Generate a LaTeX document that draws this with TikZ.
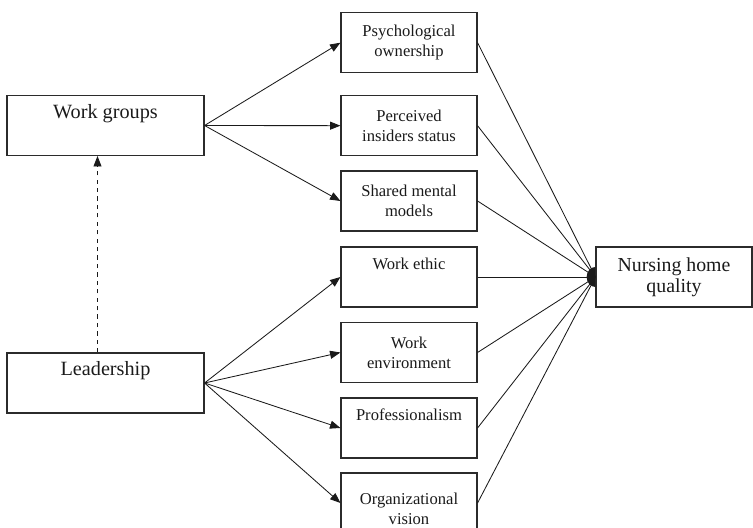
\documentclass[tikz,border=0pt]{standalone}
\usepackage{fontspec}
\setmainfont{Liberation Serif}
\usetikzlibrary{arrows.meta,positioning}
\definecolor{nhline}{HTML}{2B2B2B}
\definecolor{nhink}{HTML}{1A1A1A}
\tikzset{
  leftbox/.style={rectangle,draw=nhline,line width=.8pt,minimum width=4.925cm,minimum height=1.5cm,align=center,text=nhink,font=\fontsize{14.4}{15.5}\selectfont},
  midbox/.style={rectangle,draw=nhline,line width=.8pt,minimum width=3.4cm,minimum height=1.5cm,align=center,text=nhink,font=\fontsize{11.8}{14.2}\selectfont},
  outbox/.style={rectangle,draw=nhline,line width=.8pt,minimum width=3.9cm,minimum height=1.5cm,align=center,text=nhink,font=\fontsize{14.1}{14.9}\selectfont},
  link/.style={-{Triangle[length=2.6mm,width=2mm]},draw=nhink,line width=.6pt},
  tie/.style={draw=nhink,line width=.6pt},
}

\begin{document}
\begin{tikzpicture}
  \useasboundingbox (0,0) rectangle (18.825,13.2);

  % ---- left: drivers ----
  \node[leftbox] (wg) at (2.6375,10.0625) {Work groups\\\strut};
  \node[leftbox] (lead) at (2.6375,3.625) {Leadership\\\strut};

  % ---- middle: mediators ----
  \node[midbox] (psy) at (10.225,12.1325) {Psychological\\ownership};
  \node[midbox] (pis) at (10.225,10.0575) {Perceived\\insiders status};
  \node[midbox] (smm) at (10.225,8.175) {Shared mental\\models};
  \node[midbox] (eth) at (10.225,6.275) {Work ethic\\\strut};
  \node[midbox] (env) at (10.225,4.3875) {Work\\environment};
  \node[midbox] (pro) at (10.225,2.5) {Professionalism\\\strut};
  \node[midbox] (org) at (10.225,0.625) {\rule{0pt}{17pt}Organizational\\vision};

  % ---- right: outcome ----
  \node[outbox] (nq) at (16.85,6.275) {Nursing home\\quality};

  \draw[link,dashed] ([xshift=-2mm]lead.north) -- ([xshift=-2mm]wg.south);
  \foreach \m in {psy,pis,smm}{ \draw[link] (wg.east) -- (\m.west); }
  \foreach \m in {eth,env,pro,org}{ \draw[link] (lead.east) -- (\m.west); }
  \foreach \m in {psy,pis,smm,eth,env,pro,org}{ \draw[tie] (\m.east) -- (nq.west); }
  \fill[nhink] (nq.west) ++(0,.25) arc[start angle=90,end angle=270,x radius=.22,y radius=.25] -- cycle;
\end{tikzpicture}
\end{document}
